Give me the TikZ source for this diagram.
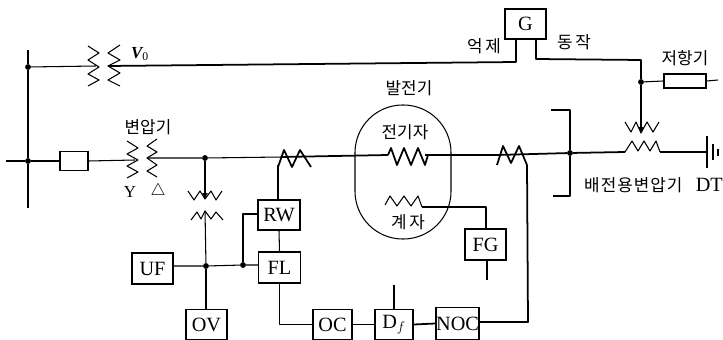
\documentclass[tikz,border=0pt]{standalone}
\usepackage{fontspec}
\setmainfont{Liberation Serif}
\newfontfamily\krfont{Noto Sans CJK KR}
\newfontfamily\krwide[LetterSpace=6]{Noto Sans CJK KR}
\usetikzlibrary{arrows.meta}
\tikzset{
  wire/.style={line width=0.9pt, line join=round},
  mainwire/.style={line width=1.5pt, line join=round},
  relay/.style={draw, line width=1.1pt, fill=white, inner sep=0pt, font=\LARGE},
  krlabel/.style={inner sep=0pt, font=\krfont\Large},
  joint/.style={circle, fill=black, inner sep=0pt, minimum size=5pt},
  tap/.style={wire, -{Latex[length=5pt,width=5pt]}},
}
\begin{document}
\begin{tikzpicture}[x=0.3mm, y=-0.3mm]
  \useasboundingbox (0,0) rectangle (723,340);

  % Relay boxes
  \node[relay, minimum width=12.3mm, minimum height=9mm] (G) at (525.5,24) {G};
  \node[relay, minimum width=12.6mm, minimum height=4.2mm] (res) at (685,81) {};
  \node[relay, minimum width=8.4mm, minimum height=5.7mm] (brk) at (74,161) {};
  \node[relay, minimum width=12.6mm, minimum height=9mm] (RW) at (279,215) {RW};
  \node[relay, minimum width=12.6mm, minimum height=9.3mm] (FL) at (279.5,267.5) {FL};
  \node[relay, minimum width=12.3mm, minimum height=9.3mm] (UF) at (152.5,268.5) {UF};
  \node[relay, minimum width=12.3mm, minimum height=9mm] (OV) at (206.5,324.5) {OV};
  \node[relay, minimum width=11.7mm, minimum height=9mm] (OC) at (332.5,324.5) {OC};
  \node[relay, minimum width=11.4mm, minimum height=9mm] (Df) at (394,324.5) {D$_f$};
  \node[relay, minimum width=12.3mm, minimum height=9.6mm] (NOC) at (457.5,323.5) {NOC};
  \node[relay, minimum width=12.3mm, minimum height=9.3mm] (FG) at (485.5,244.5) {FG};

  % Generator outline
  \node[draw, line width=0.9pt, rounded corners=14.3mm, minimum width=28.8mm, minimum height=40.2mm, inner sep=0pt] (gen) at (403,172) {};

  % Junctions and free ends
  \node[joint] (jbus) at (28,161) {};
  \node[joint] (jvo) at (28,67) {};
  \node[joint] (jpt) at (205,158) {};
  \node[joint] (jpts) at (206,266) {};
  \node[joint] (jfl) at (243,265) {};
  \node[joint] (jmain) at (570,153) {};
  \node[joint] (jres) at (641,82) {};
  \coordinate (bustop) at (28,50);
  \coordinate (busend) at (28,208);
  \coordinate (linein) at (6,161);
  \coordinate (brtop) at (551,110);
  \coordinate (brbot) at (553,196);
  \coordinate (resend) at (718,80);
  \coordinate (fgend) at (487,280);
  \coordinate (dfend) at (394,285);

  % Transformer terminals
  \coordinate (vop) at (96,66);
  \coordinate (vos) at (108,66);
  \coordinate (tp) at (135,160);
  \coordinate (ts) at (147,158);
  \coordinate (ptu) at (205,199);
  \coordinate (ptl) at (205,211);
  \coordinate (ct1l) at (282,157);
  \coordinate (ct1r) at (312,157);
  \coordinate (arml) at (388,155);
  \coordinate (armr) at (425,155);
  \coordinate (ct2l) at (497,155);
  \coordinate (fldr) at (422,207);
  \coordinate (dtu) at (641,133);
  \coordinate (dtl) at (625,152);
  \coordinate (dtr) at (660,152);
  \coordinate (gnd) at (707,152);

  % Windings
  \draw[wire] (88,46) -- (99,53) -- (88,60) -- (99,67) -- (88,74) -- (99,80) -- (88,86);
  \draw[wire] (120,45) -- (108,53) -- (120,60) -- (108,66) -- (120,73) -- (108,80) -- (120,86);
  \draw[wire] (127,141) -- (138,148) -- (127,154) -- (138,160) -- (127,166) -- (138,172) -- (127,178);
  \draw[wire] (157,139) -- (147,146) -- (157,152) -- (147,158) -- (157,165) -- (147,171) -- (157,177);
  \draw[wire] (188,191) -- (194,200) -- (200,191) -- (205,199) -- (211,191) -- (216,200) -- (222,191);
  \draw[wire] (191,220) -- (197,212) -- (201,219) -- (205,211) -- (211,219) -- (216,212) -- (223,220);
  \draw[mainwire] (278,167) -- (284,150) -- (292,167) -- (300,150) -- (311,167);
  \draw[mainwire] (388,155) -- (391,148) -- (397,165) -- (404,148) -- (411,165) -- (418,148) -- (425,165) -- (428,155);
  \draw[wire] (385,205) -- (390,196) -- (397,206) -- (404,196) -- (411,206) -- (418,196) -- (422,207);
  \draw[mainwire] (497,165) -- (503,146) -- (511,163) -- (519,146) -- (527,165);
  \draw[wire] (625,122) -- (631,132) -- (636,122) -- (641,133) -- (647,122) -- (653,132) -- (659,122);
  \draw[wire] (625,152) -- (632,141) -- (638,151) -- (644,141) -- (650,151) -- (656,141) -- (660,152);

  % Ground plates
  \draw[wire] (707,136) -- (707,168);
  \draw[wire] (713,144) -- (713,160);
  \draw[wire] (718,149) -- (718,156);

  % Upper control line
  \draw[wire] (bustop) -- (jvo) -- (jbus) -- (busend);
  \draw[wire] (jvo) -- (vop);
  \draw[mainwire] (vos) -- (516,62) -- (G.south -| 516,62);
  \draw[mainwire] (G.south -| 536,59) -- (536,59) -- (641,60) -- (jres);
  \draw[tap] (jres) -- (dtu);
  \draw[wire] (jres) -- (res.west);
  \draw[wire] (res.east) -- (resend);

  % Main line
  \draw[wire] (linein) -- (jbus) -- (brk.west);
  \draw[wire] (brk.east) -- (tp);
  \draw[wire] (ts) -- (jpt) -- (ct1l);
  \draw[mainwire] (ct1l) -- (arml);
  \draw[mainwire] (armr) -- (ct2l);
  \draw[mainwire] (ct2l) -- (jmain);
  \draw[mainwire] (jmain) -- (dtl);
  \draw[wire] (dtr) -- (gnd);
  \draw[wire] (brtop) -- (570,110) -- (jmain) -- (570,196) -- (brbot);

  % Relay connections
  \draw[tap] (jpt) -- (ptu);
  \draw[wire] (ptl) -- (jpts);
  \draw[wire] (jpts) -- (OV.north -| jpts);
  \draw[wire] (UF.east |- jpts) -- (jpts) -- (jfl) -- (FL.west |- jfl);
  \draw[wire] (jfl) -- (243,214) -- (RW.west |- 243,214);
  \draw[wire] (278,165) -- (RW.north -| 278,165);
  \draw[wire] (RW.south) -- (FL.north);
  \draw[wire] (FL.south) |- (OC.west);
  \draw[mainwire] (OC.east) -- (Df.west);
  \draw[mainwire] (Df.east) -- (NOC.west);
  \draw[wire] (dfend) -- (Df.north);
  \draw[mainwire] (527,165) -- (528,322) -- (NOC.east |- 528,322);
  \draw[mainwire] (fldr) -- (486,207) -- (FG.north -| 486,207);
  \draw[wire] (FG.south -| fgend) -- (fgend);

  % Labels
  \node[inner sep=0pt, font=\Large\bfseries\itshape] (lvo) at (140,54) {V\textsubscript{\normalfont 0}};
  \node[krlabel] (ltr) at (148,127) {변압기};
  \node[inner sep=0pt, font=\Large] (ly) at (130,192) {Y};
  \node[inner sep=0pt, font=\Large] (ld) at (158,191) {$\triangle$};
  \node[krlabel] (lsup) at (484,46) {억\,제};
  \node[krlabel] (lact) at (574,42) {동\,작};
  \node[krlabel] (lres) at (685,58) {저항기};
  \node[krlabel] (lgen) at (409,88) {발전기};
  \node[krlabel] (larm) at (405,132) {전기자};
  \node[krlabel] (lfld) at (408,222) {계\,자};
  \node[inner sep=0pt, anchor=west, font=\krwide\Large] (ldt) at (584,185) {배전용변압기};
  \node[inner sep=0pt, anchor=east, font=\LARGE] (ldtn) at (723,185) {DT};
\end{tikzpicture}
\end{document}
